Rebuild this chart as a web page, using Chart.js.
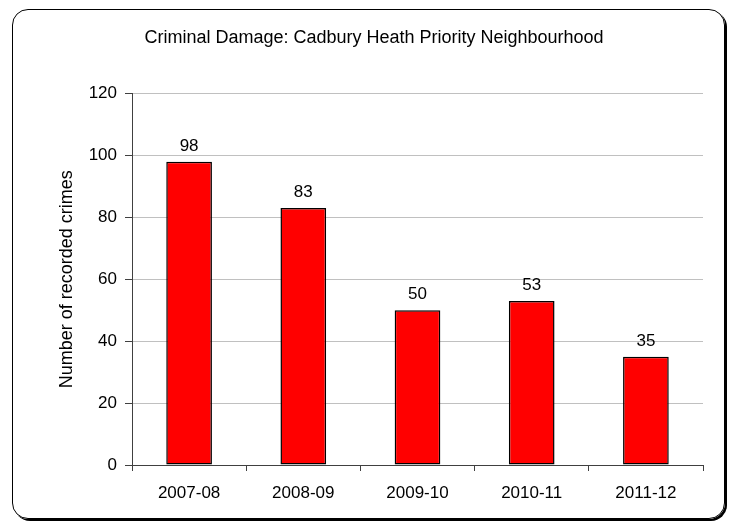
<!DOCTYPE html>
<html>
<head>
<meta charset="utf-8">
<script src="https://cdn.jsdelivr.net/npm/chart.js@4/dist/chart.umd.min.js"></script>
<style>
	body { margin: 0; background: #fff; }
	#wrap { position: relative; width: 734px; height: 527px; }
	#marco {
		position: absolute; left: 12px; top: 9px; width: 711px; height: 508px;
		border: 1.5px solid #000; border-radius: 16px; box-shadow: 2px 2px 0 #000;
	}
	canvas { position: absolute; left: 0; top: 0; }
</style>
</head>
<body>
<div id="wrap">
	<div id="marco"></div>
	<canvas id="grafica" width="734" height="527"></canvas>
</div>
<script>
var periodos = ["2007-08", "2008-09", "2009-10", "2010-11", "2011-12"];
var delitos = [98, 83, 50, 53, 35];
var titulo = "Criminal Damage: Cadbury Heath Priority Neighbourhood";
var tituloEje = "Number of recorded crimes";

// etiquetas encima de cada barra
var etiquetas = {
	id: "etiquetas",
	afterDatasetsDraw: function(chart){
		var c = chart.ctx;
		c.save();
		c.font = "17px 'Liberation Sans', Arial, sans-serif";
		c.fillStyle = "#000";
		c.textAlign = "center";
		c.textBaseline = "bottom";
		chart.getDatasetMeta(0).data.forEach(function(barra, i){
			c.fillText(delitos[i], barra.x, barra.y - 7);
		});
		c.restore();
	}
};

var ctx = document.getElementById("grafica").getContext("2d");
new Chart(ctx, {
	type: "bar",
	data: {
		labels: periodos,
		datasets: [{
			data: delitos,
			backgroundColor: "#ff0000",
			borderColor: "#000000",
			borderWidth: 1.5,
			borderSkipped: false,
			categoryPercentage: 1,
			barPercentage: 0.4
		}]
	},
	options: {
		responsive: false,
		animation: false,
		layout: { padding: { left: 45, right: 31, top: 0, bottom: 0 } },
		plugins: {
			legend: { display: false },
			tooltip: { enabled: false },
			title: {
				display: true,
				text: titulo,
				color: "#000",
				font: { family: "'Liberation Sans', Arial, sans-serif", size: 18, weight: "normal" },
				padding: { top: 27, bottom: 45 }
			}
		},
		scales: {
			y: {
				min: 0,
				max: 120,
				ticks: {
					stepSize: 20,
					color: "#000",
					padding: 8,
					font: { family: "'Liberation Sans', Arial, sans-serif", size: 17 }
				},
				grid: { color: "#c0c0c0", tickColor: "#404040", tickLength: 7 },
				border: { display: true, color: "#404040" },
				title: {
					display: true,
					text: tituloEje,
					color: "#000",
					font: { family: "'Liberation Sans', Arial, sans-serif", size: 18 },
					padding: { top: 11, bottom: 0 }
				},
				afterFit: function(scale){ scale.width = 87; }
			},
			x: {
				ticks: {
					color: "#000",
					padding: 12,
					font: { family: "'Liberation Sans', Arial, sans-serif", size: 17 }
				},
				grid: { drawOnChartArea: false, tickColor: "#404040", tickLength: 6, offset: true },
				border: { display: true, color: "#404040" },
				afterFit: function(scale){ scale.height = 62; }
			}
		}
	},
	plugins: [etiquetas]
});
</script>
</body>
</html>
